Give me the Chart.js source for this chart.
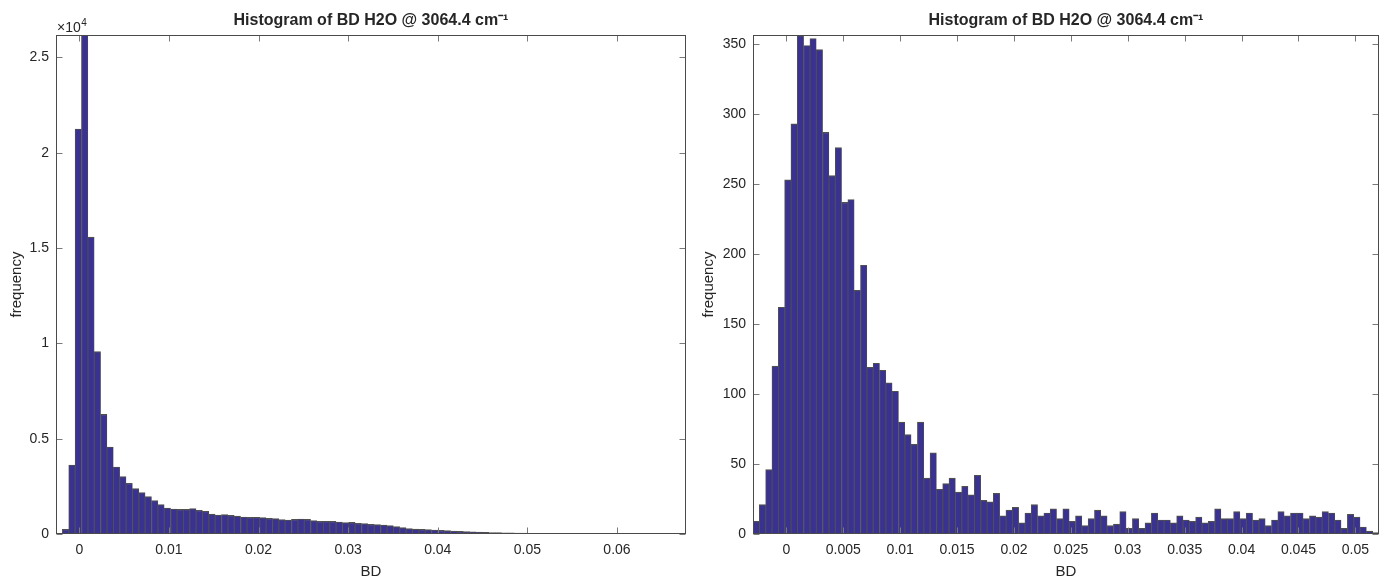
<!DOCTYPE html>
<html><head><meta charset="utf-8">
<script src="https://cdn.jsdelivr.net/npm/chart.js@4/dist/chart.umd.min.js"></script>
<style>
html,body{margin:0;padding:0;background:#fff;}
#wrap{position:relative;width:1381px;height:577px;overflow:hidden;}
.box{position:absolute;top:0;height:577px;}
#b1{left:0;width:690px;}
#b2{left:690px;width:691px;}
</style></head><body>
<div id="wrap">
  <div class="box" id="b1"><canvas id="c1"></canvas></div>
  <div class="box" id="b2"><canvas id="c2"></canvas></div>
</div>
<script>
// ---------- data ----------
const titleText = 'Histogram of BD H2O @ 3064.4 cm\u207B\u00B9';
const xLabel = 'BD';
const yLabel = 'frequency';

// left panel: full range histogram (99 bins over the axis range)
const leftBinRange = [-0.0026, 0.0677];
const leftCounts = [
  0,245,3620,21250,26180,15580,9570,6280,4565,3515,
  3008,2658,2379,2169,1959,1749,1539,1364,1312,1294,
  1294,1329,1242,1189,1049,997,1014,979,944,892,
  874,874,857,822,805,752,735,770,787,770,
  700,665,665,665,630,595,612,560,542,507,
  490,472,437,385,332,280,262,245,227,210,
  192,175,157,140,125,110,100,90,80,70,
  62,55,48,42,37,32,28,24,20,17,
  14,12,10,8,6,5,4,3,2,2,
  1,1,1,1,0,0,0,0,1
];
const leftYMax = 26180;
const leftXTicks = [0, 0.01, 0.02, 0.03, 0.04, 0.05, 0.06];
const leftXTickLabels = ['0', '0.01', '0.02', '0.03', '0.04', '0.05', '0.06'];
const leftYTicks = [0, 5000, 10000, 15000, 20000, 25000];
const leftYTickLabels = ['0', '0.5', '1', '1.5', '2', '2.5'];
const leftExponent = '4';

// right panel: zoomed histogram (99 bins over the axis range)
const rightBinRange = [-0.00294, 0.05208];
const rightCounts = [
  9,21,46,120,162,253,293,356,349,354,
  346,287,256,276,237,239,174,192,119,122,
  117,108,102,80,71,64,80,40,58,32,
  36,40,30,34,28,42,24,23,29,13,
  17,19,8,15,21,13,15,18,11,18,
  9,13,6,11,17,13,6,7,16,4,
  11,4,8,15,10,10,8,13,10,9,
  12,8,9,18,11,11,16,11,15,10,
  11,6,10,16,13,15,15,11,13,12,
  16,15,10,4,14,12,5,2,1
];
const rightYMax = 356.5;
const rightXTicks = [0, 0.005, 0.01, 0.015, 0.02, 0.025, 0.03, 0.035, 0.04, 0.045, 0.05];
const rightXTickLabels = ['0', '0.005', '0.01', '0.015', '0.02', '0.025', '0.03', '0.035', '0.04', '0.045', '0.05'];
const rightYTicks = [0, 50, 100, 150, 200, 250, 300, 350];
const rightYTickLabels = ['0', '50', '100', '150', '200', '250', '300', '350'];

// ---------- styling ----------
const FONT = "'Liberation Sans', Arial, Helvetica, sans-serif";
const TEXT = '#262626';
const BAR_FILL = '#3a3290';
const BAR_EDGE = '#505050';

Chart.defaults.font.family = FONT;
Chart.defaults.color = TEXT;

function binPoints(range, counts) {
  const w = (range[1] - range[0]) / counts.length;
  return counts.map((c, i) => ({ x: range[0] + (i + 0.5) * w, y: c }));
}

const framePlugin = {
  id: 'frame',
  afterDatasetsDraw(chart, args, opts) {
    const { ctx, chartArea: a, scales: { x, y } } = chart;
    const L = Math.round(a.left) + 0.5, R = Math.round(a.right) - 0.5;
    const T = Math.round(a.top) + 0.5, B = Math.round(a.bottom) - 0.5;
    ctx.save();
    ctx.lineWidth = 1;
    ctx.strokeStyle = '#7a7a7a';
    ctx.beginPath();
    const len = 6;
    x.ticks.forEach(t => {
      const p = Math.round(x.getPixelForValue(t.value)) + 0.5;
      ctx.moveTo(p, B); ctx.lineTo(p, B - len);
      ctx.moveTo(p, T); ctx.lineTo(p, T + len);
    });
    y.ticks.forEach(t => {
      const p = Math.round(y.getPixelForValue(t.value)) + 0.5;
      ctx.moveTo(L, p); ctx.lineTo(L + len, p);
      ctx.moveTo(R, p); ctx.lineTo(R - len, p);
    });
    ctx.stroke();
    ctx.strokeStyle = '#4a4a4a';
    ctx.strokeRect(L, T, R - L, B - T);
    if (opts && opts.exponent) {
      ctx.fillStyle = TEXT;
      ctx.textBaseline = 'alphabetic';
      ctx.textAlign = 'left';
      ctx.font = '14px ' + FONT;
      const base = '\u00D710';
      ctx.fillText(base, a.left + 1, a.top - 3);
      const w = ctx.measureText(base).width;
      ctx.font = '10px ' + FONT;
      ctx.fillText(opts.exponent, a.left + 1.5 + w, a.top - 9.5);
    }
    ctx.restore();
  }
};

function makeChart(id, cfg) {
  return new Chart(document.getElementById(id), {
    type: 'bar',
    data: {
      datasets: [{
        data: binPoints(cfg.range, cfg.counts),
        backgroundColor: BAR_FILL,
        borderColor: BAR_EDGE,
        borderWidth: { top: 1.2, left: 1, right: 0.6, bottom: 0 },
        borderSkipped: 'start',
        barPercentage: 1,
        categoryPercentage: 1,
        clip: 0
      }]
    },
    options: {
      responsive: true,
      maintainAspectRatio: false,
      animation: false,
      events: [],
      layout: { padding: { left: 0, right: cfg.padRight, top: 0, bottom: 0 } },
      plugins: {
        legend: { display: false },
        tooltip: { enabled: false },
        title: {
          display: true,
          text: titleText,
          fullSize: false,
          color: TEXT,
          font: { size: 16, weight: 'bold', family: FONT },
          padding: { top: 11, bottom: 4.8 }
        },
        frame: { exponent: cfg.exponent }
      },
      scales: {
        x: {
          type: 'linear',
          offset: false,
          min: cfg.range[0],
          max: cfg.range[1],
          grid: { display: false, drawTicks: false },
          border: { display: false },
          afterBuildTicks: s => { s.ticks = cfg.xTicks.map(v => ({ value: v })); },
          afterFit: s => { s.height = 43; },
          ticks: {
            autoSkip: false, maxRotation: 0, padding: 8,
            font: { size: 14 }, color: TEXT,
            callback: (v, i) => cfg.xTickLabels[i]
          },
          title: {
            display: true, text: xLabel, color: TEXT,
            font: { size: 15 }, padding: { top: 0, bottom: -3.5 }
          }
        },
        y: {
          type: 'linear',
          min: 0,
          max: cfg.yMax,
          grid: { display: false, drawTicks: false },
          border: { display: false },
          afterBuildTicks: s => { s.ticks = cfg.yTicks.map(v => ({ value: v })); },
          afterFit: s => { s.width = cfg.yWidth; },
          ticks: {
            padding: 7, font: { size: 14 }, color: TEXT,
            callback: (v, i) => cfg.yTickLabels[i]
          },
          title: {
            display: true, text: yLabel, color: TEXT,
            font: { size: 15 }, padding: { top: cfg.yTitlePad, bottom: 0 }
          }
        }
      }
    },
    plugins: [framePlugin]
  });
}

makeChart('c1', {
  range: leftBinRange, counts: leftCounts, yMax: leftYMax,
  xTicks: leftXTicks, xTickLabels: leftXTickLabels,
  yTicks: leftYTicks, yTickLabels: leftYTickLabels,
  yWidth: 56, padRight: 4, yTitlePad: 8, exponent: leftExponent
});
makeChart('c2', {
  range: rightBinRange, counts: rightCounts, yMax: rightYMax,
  xTicks: rightXTicks, xTickLabels: rightXTickLabels,
  yTicks: rightYTicks, yTickLabels: rightYTickLabels,
  yWidth: 63, padRight: 2, yTitlePad: 10, exponent: null
});
</script>
</body></html>
